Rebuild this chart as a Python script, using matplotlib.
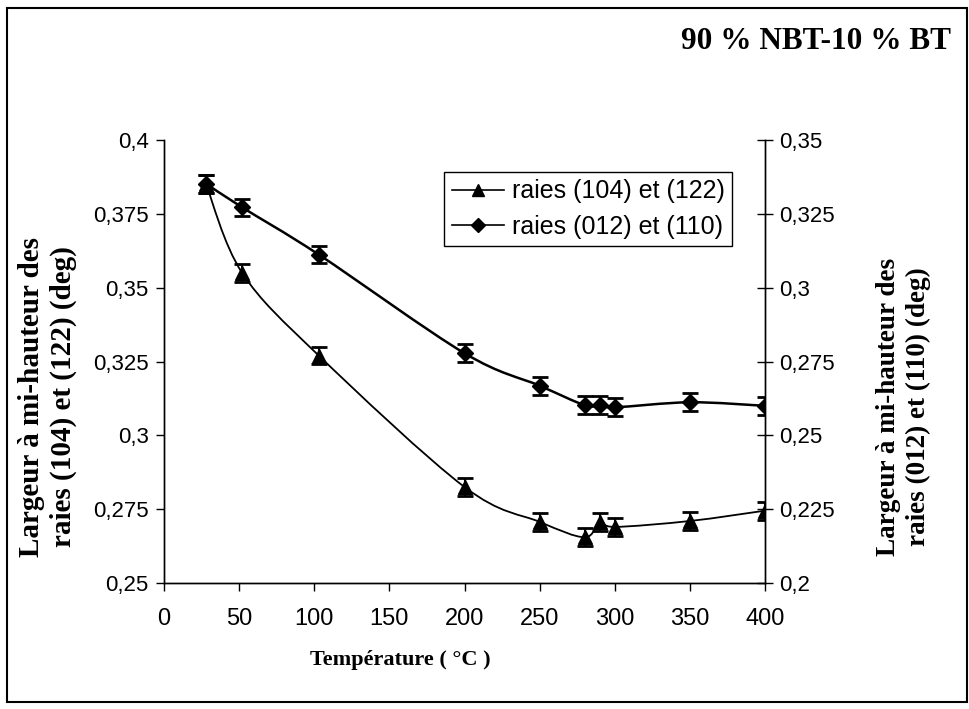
import numpy as np
import matplotlib
matplotlib.use("Agg")
import matplotlib.pyplot as plt
from matplotlib.path import Path
from matplotlib.patches import PathPatch, Rectangle

# data
temp = [28, 52, 103, 200, 250, 280, 290, 300, 350, 400]
fwhm_104_122 = [0.385, 0.355, 0.327, 0.2825, 0.2707, 0.2655, 0.2707, 0.269, 0.271, 0.2745]
fwhm_012_110 = [0.3352, 0.3272, 0.3112, 0.2778, 0.2668, 0.2602, 0.2602, 0.2595, 0.2612, 0.2600]
err_left = 0.003
err_right = 0.003

left_ticks = [0.25, 0.275, 0.3, 0.325, 0.35, 0.375, 0.4]
right_ticks = [0.2, 0.225, 0.25, 0.275, 0.3, 0.325, 0.35]
x_ticks = [0, 50, 100, 150, 200, 250, 300, 350, 400]


def comma(v):
    return ("%g" % v).replace(".", ",")


def smooth_path(x, y):
    # Catmull-Rom style smoothing, like the spreadsheet "smoothed line"
    p = np.column_stack([x, y]).astype(float)
    verts = [p[0]]
    codes = [Path.MOVETO]
    n = len(p)
    for i in range(n - 1):
        p0 = p[i - 1] if i > 0 else p[i]
        p3 = p[i + 2] if i + 2 < n else p[i + 1]
        c1 = p[i] + (p[i + 1] - p0) / 6.0
        c2 = p[i + 1] - (p3 - p[i]) / 6.0
        verts += [c1, c2, p[i + 1]]
        codes += [Path.CURVE4] * 3
    return Path(verts, codes)


plt.rcParams['font.family'] = ['Liberation Sans', 'DejaVu Sans']
fig = plt.figure(figsize=(9.7, 7.09), dpi=100)
ax = fig.add_axes([0.1691, 0.1777, 0.6196, 0.6248])
ax2 = ax.twinx()

ax.set_xlim(0, 400)
ax.set_ylim(0.25, 0.4)
ax2.set_ylim(0.2, 0.35)

# series 1 on left axis
ax.add_patch(PathPatch(smooth_path(temp, fwhm_104_122), fill=False, lw=1.3, color='black'))
ax.errorbar(temp, fwhm_104_122, yerr=err_left, fmt='^', color='black', ms=10,
            capsize=5.5, capthick=2, elinewidth=1.5)
# series 2 on right axis
ax2.add_patch(PathPatch(smooth_path(temp, fwhm_012_110), fill=False, lw=1.8, color='black'))
ax2.errorbar(temp, fwhm_012_110, yerr=err_right, fmt='D', color='black', ms=8,
             capsize=5.5, capthick=2, elinewidth=1.5)

# legend handles
h1, = ax.plot([], [], '-^', color='black', ms=9, lw=1.2)
h2, = ax.plot([], [], '-D', color='black', ms=7, lw=1.2)
leg = ax2.legend([h1, h2], ['raies (104) et (122)', 'raies (012) et (110)'],
                 loc='upper left', bbox_to_anchor=(0.466, 0.928), borderaxespad=0,
                 fontsize=18, frameon=True, fancybox=False, edgecolor='black',
                 framealpha=1, handlelength=2.1, handletextpad=0.3,
                 borderpad=0.3, labelspacing=0.45)
leg.get_frame().set_linewidth(1.0)

ax.set_xticks(x_ticks)
ax.set_xticklabels([str(t) for t in x_ticks], fontsize=17)
ax.set_yticks(left_ticks)
ax.set_yticklabels([comma(t) for t in left_ticks], fontsize=16)
ax2.set_yticks(right_ticks)
ax2.set_yticklabels([comma(t) for t in right_ticks], fontsize=16)

ax.tick_params(axis='x', direction='out', length=6, width=1, pad=12)
ax.tick_params(axis='y', direction='out', length=6, width=1, pad=5)
ax2.tick_params(axis='y', direction='inout', length=12, width=1, pad=4)

for a in (ax, ax2):
    a.spines['top'].set_visible(False)
    for s in a.spines.values():
        s.set_linewidth(1.0)

serif = ['Liberation Serif', 'DejaVu Serif']
fig.text(0.413, 0.069, 'Température ( °C )', family=serif, fontweight='bold',
         fontsize=16, ha='center', va='center')
fig.text(0.049, 0.44, 'Largeur à mi-hauteur des\nraies (104) et (122) (deg)',
         family=serif, fontweight='bold', fontsize=21, rotation=90,
         ha='center', va='center', linespacing=1.25)
fig.text(0.931, 0.426, 'Largeur à mi-hauteur des\nraies (012) et (110) (deg)',
         family=serif, fontweight='bold', fontsize=19.5, rotation=90,
         ha='center', va='center', linespacing=1.25)
fig.text(0.98, 0.941, '90 % NBT-10 % BT', family=serif, fontweight='bold',
         fontsize=22.5, ha='right', va='center')

fig.patches.append(Rectangle((0.007, 0.01), 0.99, 0.979, transform=fig.transFigure,
                             fill=False, lw=1.5, edgecolor='black'))

fig.savefig('out.png', dpi=100)
